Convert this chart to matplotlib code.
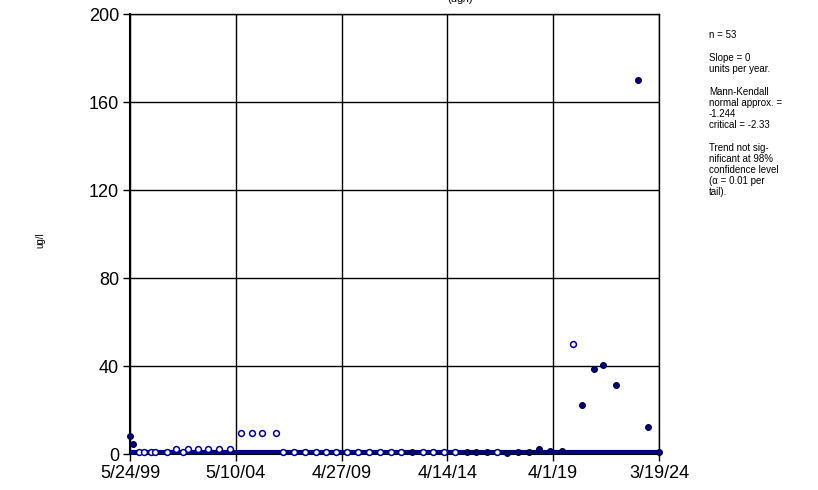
import matplotlib
matplotlib.use("Agg")
import matplotlib.pyplot as plt
import matplotlib.dates as mdates
from datetime import datetime

# ---- data ----
sample_dates = [
    "1999-05-24", "1999-07-19", "1999-10-30", "2000-01-24", "2000-05-13", "2000-07-31",
    "2001-02-11", "2001-07-20", "2001-11-22", "2002-02-06", "2002-08-06", "2003-01-25",
    "2003-08-01", "2004-02-01", "2004-08-07", "2005-02-06", "2005-08-07", "2006-03-25",
    "2006-07-23", "2007-02-01", "2007-08-09", "2008-02-13", "2008-08-03", "2009-01-21",
    "2009-07-23", "2010-01-28", "2010-08-04", "2011-02-14", "2011-08-16", "2012-02-14",
    "2012-08-24", "2013-02-15", "2013-08-11", "2014-02-15", "2014-08-22", "2015-03-11",
    "2015-08-14", "2016-02-17", "2016-08-06", "2017-01-29", "2017-08-11", "2018-02-05",
    "2018-08-06", "2019-02-05", "2019-08-25", "2020-02-29", "2020-08-12", "2021-03-05",
    "2021-08-07", "2022-03-07", "2023-03-24", "2023-09-17", "2024-03-19",
]
sample_values = [
    8.3, 4.4, 1, 1, 1, 1,
    1, 2.5, 1, 2.5, 2.5, 2.5,
    2.5, 2.5, 9.5, 9.5, 9.5, 9.5,
    1, 1, 1, 1, 1, 1,
    1, 1, 1, 1, 1, 1,
    1, 1, 1, 1, 1, 1,
    1, 1, 0.8, 0.4, 1, 1,
    2.2, 1.2, 1.2, 50, 22.5, 38.5,
    40.5, 31.5, 170, 12.5, 1,
]
# 1 = detected (filled marker), 0 = non-detect (open marker)
detected = [
    1, 1, 0, 0, 0, 0,
    0, 0, 0, 0, 0, 0,
    0, 0, 0, 0, 0, 0,
    0, 0, 0, 0, 0, 0,
    0, 0, 0, 0, 0, 0,
    1, 0, 0, 0, 0, 1,
    1, 1, 0, 1, 1, 1,
    1, 1, 1, 0, 1, 1,
    1, 1, 1, 1, 1,
]
trend_value = 1.0
x_tick_dates = ["1999-05-24", "2004-05-10", "2009-04-27", "2014-04-14", "2019-04-01", "2024-03-19"]
x_tick_labels = ["5/24/99", "5/10/04", "4/27/09", "4/14/14", "4/1/19", "3/19/24"]
y_ticks = [0, 40, 80, 120, 160, 200]
y_tick_labels = ["0", "40", "80", "120", "160", "200"]
stats_lines = [
    ["n = 53"],
    ["Slope = 0", "units per year."],
    ["Mann-Kendall", "normal approx. =", "-1.244", "critical = -2.33"],
    ["Trend not sig-", "nificant at 98%", "confidence level", "(\u03b1 = 0.01 per", "tail)."],
]

plt.rcParams['font.family'] = ['Liberation Sans', 'DejaVu Sans']

to_dt = lambda s: datetime.strptime(s, "%Y-%m-%d")
xd = [mdates.date2num(to_dt(s)) for s in sample_dates]
xt = [mdates.date2num(to_dt(s)) for s in x_tick_dates]

W, H = 818, 490
fig = plt.figure(figsize=(W / 100, H / 100), dpi=100)
ax = fig.add_axes([130 / W, 1 - 454 / H, (659 - 130) / W, (454 - 14.5) / H])

ax.set_xlim(xt[0], xt[-1])
ax.set_ylim(0, 200)
ax.set_xticks(xt)
ax.set_xticklabels(x_tick_labels)
ax.set_yticks(y_ticks)
ax.set_yticklabels(y_tick_labels)
ax.tick_params(axis='both', labelsize=13, direction='out', length=5, width=1, color='black', pad=3)
ax.grid(True, color='black', linewidth=1)
ax.set_axisbelow(True)
for side, sp in ax.spines.items():
    sp.set_color('black')
    sp.set_linewidth(1)
ax.spines['left'].set_linewidth(1.5)
ax.spines['bottom'].set_linewidth(1.5)

# trend line
ax.plot([xt[0], xt[-1]], [trend_value, trend_value], color='#000080', linewidth=3,
        solid_capstyle='butt', zorder=3, clip_on=False)

xf = [x for x, d in zip(xd, detected) if d]
yf = [v for v, d in zip(sample_values, detected) if d]
xo = [x for x, d in zip(xd, detected) if not d]
yo = [v for v, d in zip(sample_values, detected) if not d]
ax.plot(xo, yo, linestyle='none', marker='o', markersize=4.2, markerfacecolor='white',
        markeredgecolor='#000099', markeredgewidth=1.1, zorder=4, clip_on=False)
ax.plot(xf, yf, linestyle='none', marker='o', markersize=4.2, markerfacecolor='#000080',
        markeredgecolor='#00003a', markeredgewidth=0.8, zorder=5, clip_on=False)

# y label
fig.text(40 / W, 1 - 240 / H, "ug/l", rotation=90, fontsize=7, ha='center', va='center')

# partially visible title
fig.text(460 / W, 1 - 2 / H, "(ug/l)", fontsize=8, ha='center', va='baseline')

# statistics annotation
y = 35
for gi, group in enumerate(stats_lines):
    for line in group:
        fig.text(709 / W, 1 - y / H, line, fontsize=7, ha='left', va='center')
        y += 11
    y += 12

fig.savefig("out.png", dpi=100)
